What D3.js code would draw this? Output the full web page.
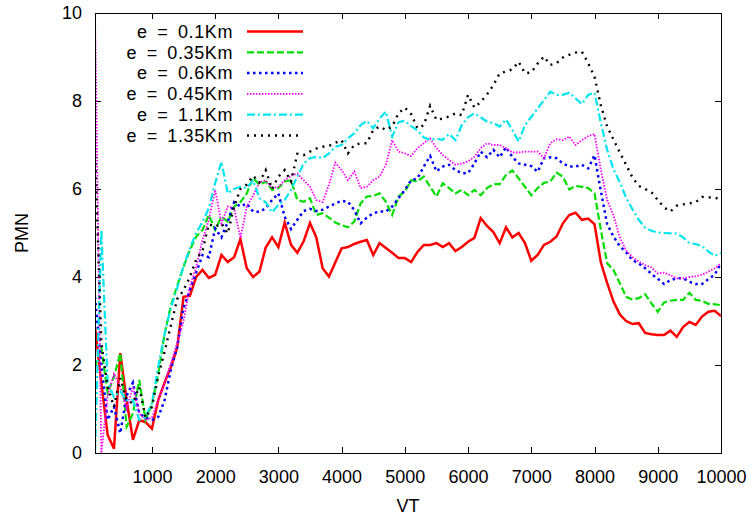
<!DOCTYPE html>
<html lang="en">
<head>
    <meta charset="UTF-8">
    <title>PMN vs VT</title>
    <script src="https://d3js.org/d3.v7.min.js"></script>
    <style>
        body {
            margin: 0;
            background: #fff;
            font-family: "Liberation Sans", Arial, sans-serif;
        }
        .axis path, .axis line {
            fill: none;
            stroke: #000;
            shape-rendering: crispEdges;
        }
        .axis text {
            font-size: 18px;
            fill: #000;
        }
    </style>
</head>
<body>
    <div id="chart"></div>
    <script>
        // x values: 100, 200, ..., 10000
        const vt = d3.range(100, 10001, 100);
        const xTicks = [1000, 2000, 3000, 4000, 5000, 6000, 7000, 8000, 9000, 10000];
        const yTicks = [0, 2, 4, 6, 8, 10];

        const labels = ["e = 0.1Km", "e = 0.35Km", "e = 0.6Km", "e = 0.45Km", "e = 1.1Km", "e = 1.35Km"];

        const e010 = [
            2.86, 1.6, 0.41, 0.1, 2.27, 1.2, 0.3, 0.75, 0.7, 0.55,
            1.2, 1.6, 1.95, 2.4, 3.55, 3.57, 4.0, 4.16, 3.98, 4.05,
            4.5, 4.34, 4.45, 4.86, 4.2, 4.0, 4.12, 4.67, 4.9, 4.68,
            5.24, 4.73, 4.55, 4.81, 5.23, 4.9, 4.2, 4.01, 4.33, 4.65,
            4.68, 4.75, 4.8, 4.84, 4.5, 4.77, 4.66, 4.55, 4.43, 4.43,
            4.34, 4.57, 4.73, 4.73, 4.77, 4.68, 4.77, 4.59, 4.68, 4.8,
            4.89, 5.34, 5.16, 5.02, 4.77, 5.13, 4.9, 5.0, 4.77, 4.37,
            4.5, 4.73, 4.8, 4.92, 5.22, 5.41, 5.46, 5.3, 5.33, 5.2,
            4.33, 3.86, 3.44, 3.15, 3.0, 2.93, 2.95, 2.73, 2.7, 2.68,
            2.68, 2.78, 2.64, 2.86, 2.98, 2.91, 3.1, 3.21, 3.23, 3.11
        ];
        const e035 = [
            1.96, 2.4, 1.36, 1.73, 2.27, 0.6, 0.9, 1.66, 0.75, 1.1,
            1.8, 2.7, 3.35, 3.8, 4.23, 4.61, 4.92, 5.07, 5.41, 5.07,
            5.37, 5.26, 5.6, 5.7, 5.9, 6.25, 6.1, 6.17, 5.98, 6.02,
            6.17, 6.2, 5.75, 5.71, 5.79, 5.41, 5.45, 5.35, 5.24, 5.18,
            5.13, 5.26, 5.67, 5.83, 5.84, 5.9, 5.71, 5.41, 5.83, 5.94,
            6.2, 6.17, 6.28, 6.05, 5.83, 6.13, 6.02, 5.9, 5.98, 5.86,
            5.98, 5.86, 6.02, 6.11, 6.11, 6.32, 6.42, 6.24, 6.05, 5.86,
            6.02, 6.14, 6.17, 6.37, 6.28, 5.99, 6.07, 6.05, 6.02, 5.9,
            5.07, 4.31, 4.16, 3.86, 3.55, 3.49, 3.52, 3.61, 3.4, 3.21,
            3.42, 3.46, 3.48, 3.48, 3.64, 3.48, 3.46, 3.39, 3.38, 3.36
        ];
        const e060 = [
            3.55, 2.0, 0.75, 1.05, 0.45, 1.3, 1.6, 0.9, 0.8, 0.75,
            0.82, 1.2, 1.9, 2.41, 3.3, 3.7, 4.1, 4.5, 4.45, 5.1,
            4.9, 5.26, 5.7, 5.6, 5.67, 5.49, 5.48, 5.56, 5.75, 5.9,
            5.37, 5.09, 5.3, 5.5, 5.55, 5.5, 5.53, 5.6, 5.67, 5.73,
            5.71, 5.52, 5.22, 5.35, 5.45, 5.49, 5.49, 5.6, 5.79, 5.98,
            6.2, 6.24, 6.51, 6.75, 6.4, 6.51, 6.55, 6.43, 6.36, 6.36,
            6.58, 6.85, 6.72, 6.89, 6.72, 6.95, 6.73, 6.58, 6.55, 6.52,
            6.39, 6.7, 6.72, 6.7, 6.58, 6.51, 6.51, 6.55, 6.47, 6.77,
            5.95, 5.2, 4.92, 4.7, 4.56, 4.38, 4.31, 4.2, 4.07, 3.96,
            3.84, 3.93, 3.97, 3.97, 3.89, 3.84, 3.84, 3.95, 4.05, 4.31
        ];
        const e045 = [
            10, 0, 1.3, 1.8, 1.5, 1.0, 1.5, 0.9, 0.75, 0.8,
            1.2, 1.6, 2.04, 2.5, 3.0, 3.78, 4.23, 4.84, 5.3, 5.98,
            5.22, 5.6, 5.56, 4.88, 5.6, 5.85, 6.15, 6.2, 6.02, 6.05,
            6.2, 6.3, 6.35, 6.2, 6.05, 5.75, 5.7, 6.1, 6.6, 6.43,
            6.2, 6.4, 6.02, 6.05, 6.2, 6.28, 6.55, 7.11, 6.85, 6.81,
            6.75, 6.93, 7.04, 7.15, 6.93, 6.77, 6.66, 6.55, 6.58, 6.63,
            6.73, 6.93, 7.04, 7.0, 7.0, 6.93, 6.83, 6.83, 6.85, 6.85,
            6.85, 6.7, 7.04, 7.13, 7.11, 7.19, 7.0, 7.11, 7.2, 7.25,
            6.43, 5.75, 5.4, 4.9, 4.6, 4.45, 4.35, 4.27, 4.22, 4.08,
            4.1, 4.04, 3.97, 3.97, 4.0, 4.02, 4.05, 4.12, 4.2, 4.31
        ];
        const e110 = [
            0, 5.07, 1.6, 1.27, 1.4, 1.2, 1.2, 0.75, 0.82, 1.13,
            1.96, 2.7, 3.3, 3.75, 4.25, 4.65, 5.0, 5.25, 5.56, 6.13,
            6.62, 5.9, 6.0, 6.05, 6.02, 6.2, 5.79, 5.7, 5.47, 5.64,
            5.75, 5.98, 6.28, 6.58, 6.7, 6.73, 6.7, 6.81, 6.96, 7.0,
            7.15, 7.27, 7.45, 7.55, 7.38, 7.6, 7.76, 7.19, 7.52, 7.55,
            7.43, 7.33, 7.17, 7.12, 7.14, 7.12, 7.25, 7.11, 7.45, 7.63,
            7.72, 7.63, 7.53, 7.5, 7.42, 7.58, 7.34, 7.08, 7.45, 7.64,
            7.83, 8.02, 8.21, 8.14, 8.14, 8.19, 8.06, 7.93, 8.14, 8.19,
            7.5, 6.89, 6.45, 6.15, 5.8, 5.54, 5.3, 5.12, 5.05, 5.01,
            5.0, 4.99, 4.99, 4.9, 4.77, 4.75, 4.7, 4.58, 4.48, 4.55
        ];
        const e135 = [
            6.9, 2.5, 1.5, 1.05, 1.7, 1.2, 1.13, 1.5, 0.8, 1.05,
            1.75, 2.3, 2.9, 3.5, 3.7, 4.0, 4.4, 4.6, 5.2, 5.14,
            5.22, 4.99, 5.6, 6.0, 6.1, 6.3, 6.15, 6.43, 6.0, 6.28,
            6.43, 6.17, 6.8, 6.77, 6.85, 6.92, 6.96, 6.98, 7.05, 7.11,
            6.81, 7.0, 7.04, 7.04, 7.34, 7.42, 7.34, 7.42, 7.72, 7.85,
            7.7, 7.38, 7.45, 7.89, 7.57, 7.6, 7.65, 7.72, 7.68, 8.14,
            7.85, 7.98, 8.15, 8.36, 8.63, 8.67, 8.72, 8.89, 8.63, 8.65,
            8.85, 9.01, 8.82, 8.86, 8.99, 9.05, 9.1, 9.12, 8.86, 8.55,
            7.9, 7.42, 7.12, 6.83, 6.55, 6.26, 6.07, 6.0, 5.93, 5.75,
            5.58, 5.49, 5.62, 5.65, 5.67, 5.7, 5.82, 5.81, 5.8, 5.77
        ];

        const seriesValues = [e010, e035, e060, e045, e110, e135];
        const colors = ["#ff0000", "#00dd00", "#0000ff", "#ff00ff", "#00e5ee", "#000000"];
        const dashes = ["none", "7,3", "2.5,3.5", "1.5,1.5", "8,3,2,3", "2,5"];
        const widths = [2.5, 2.2, 2.5, 1.8, 2.2, 2.4];

        const W = 756, H = 519;
        const margin = { top: 13, right: 35, bottom: 66, left: 95 };
        const width = W - margin.left - margin.right;
        const height = H - margin.top - margin.bottom;

        const svg = d3.select("#chart").append("svg")
            .attr("width", W)
            .attr("height", H);

        const g = svg.append("g")
            .attr("transform", `translate(${margin.left},${margin.top})`);

        const x = d3.scaleLinear().domain([100, 10000]).range([0, width]);
        const y = d3.scaleLinear().domain([0, 10]).range([height, 0]);

        g.append("clipPath").attr("id", "clip")
            .append("rect").attr("width", width).attr("height", height);

        // axes with inward ticks, mirrored on top and right
        const tick = 6;
        const fmt = d3.format("d");
        g.append("g").attr("class", "axis")
            .attr("transform", `translate(0,${height})`)
            .call(d3.axisBottom(x).tickValues(xTicks).tickFormat(fmt).tickSize(-tick).tickPadding(tick + 11).tickSizeOuter(0))
            .call(a => a.select(".domain").remove());
        g.append("g").attr("class", "axis")
            .call(d3.axisTop(x).tickValues(xTicks).tickSize(-tick).tickFormat("").tickSizeOuter(0))
            .call(a => a.select(".domain").remove());
        g.append("g").attr("class", "axis")
            .call(d3.axisLeft(y).tickValues(yTicks).tickFormat(fmt).tickSize(-tick).tickPadding(tick + 7).tickSizeOuter(0))
            .call(a => a.select(".domain").remove());
        g.append("g").attr("class", "axis")
            .attr("transform", `translate(${width},0)`)
            .call(d3.axisRight(y).tickValues(yTicks).tickSize(-tick).tickFormat("").tickSizeOuter(0))
            .call(a => a.select(".domain").remove());

        const line = d3.line()
            .x((d, i) => x(vt[i]))
            .y(d => y(d));

        const plot = g.append("g").attr("clip-path", "url(#clip)");
        seriesValues.forEach((vals, k) => {
            plot.append("path")
                .datum(vals)
                .attr("d", line)
                .style("fill", "none")
                .style("stroke", colors[k])
                .style("stroke-width", widths[k])
                .style("stroke-dasharray", dashes[k]);
        });

        // frame
        g.append("rect")
            .attr("width", width)
            .attr("height", height)
            .style("fill", "none")
            .style("stroke", "#000")
            .style("stroke-width", 1)
            .style("shape-rendering", "crispEdges");

        // legend
        const legend = svg.append("g");
        labels.forEach((lab, k) => {
            const ly = 31.5 + k * 20.8;
            legend.append("text")
                .attr("x", 233)
                .attr("y", ly)
                .attr("dy", ".35em")
                .attr("text-anchor", "end")
                .style("font-size", "18px")
                .style("word-spacing", "4px")
                .style("letter-spacing", "0.6px")
                .text(lab);
            legend.append("line")
                .attr("x1", 247).attr("x2", 303)
                .attr("y1", ly).attr("y2", ly)
                .style("stroke", colors[k])
                .style("stroke-width", widths[k])
                .style("stroke-dasharray", dashes[k]);
        });

        // axis titles
        svg.append("text")
            .attr("x", margin.left + width / 2)
            .attr("y", 512)
            .attr("text-anchor", "middle")
            .style("font-size", "18px")
            .text("VT");
        svg.append("text")
            .attr("transform", `translate(28,${margin.top + height / 2}) rotate(-90)`)
            .attr("text-anchor", "middle")
            .style("font-size", "18px")
            .text("PMN");
    </script>
</body>
</html>
